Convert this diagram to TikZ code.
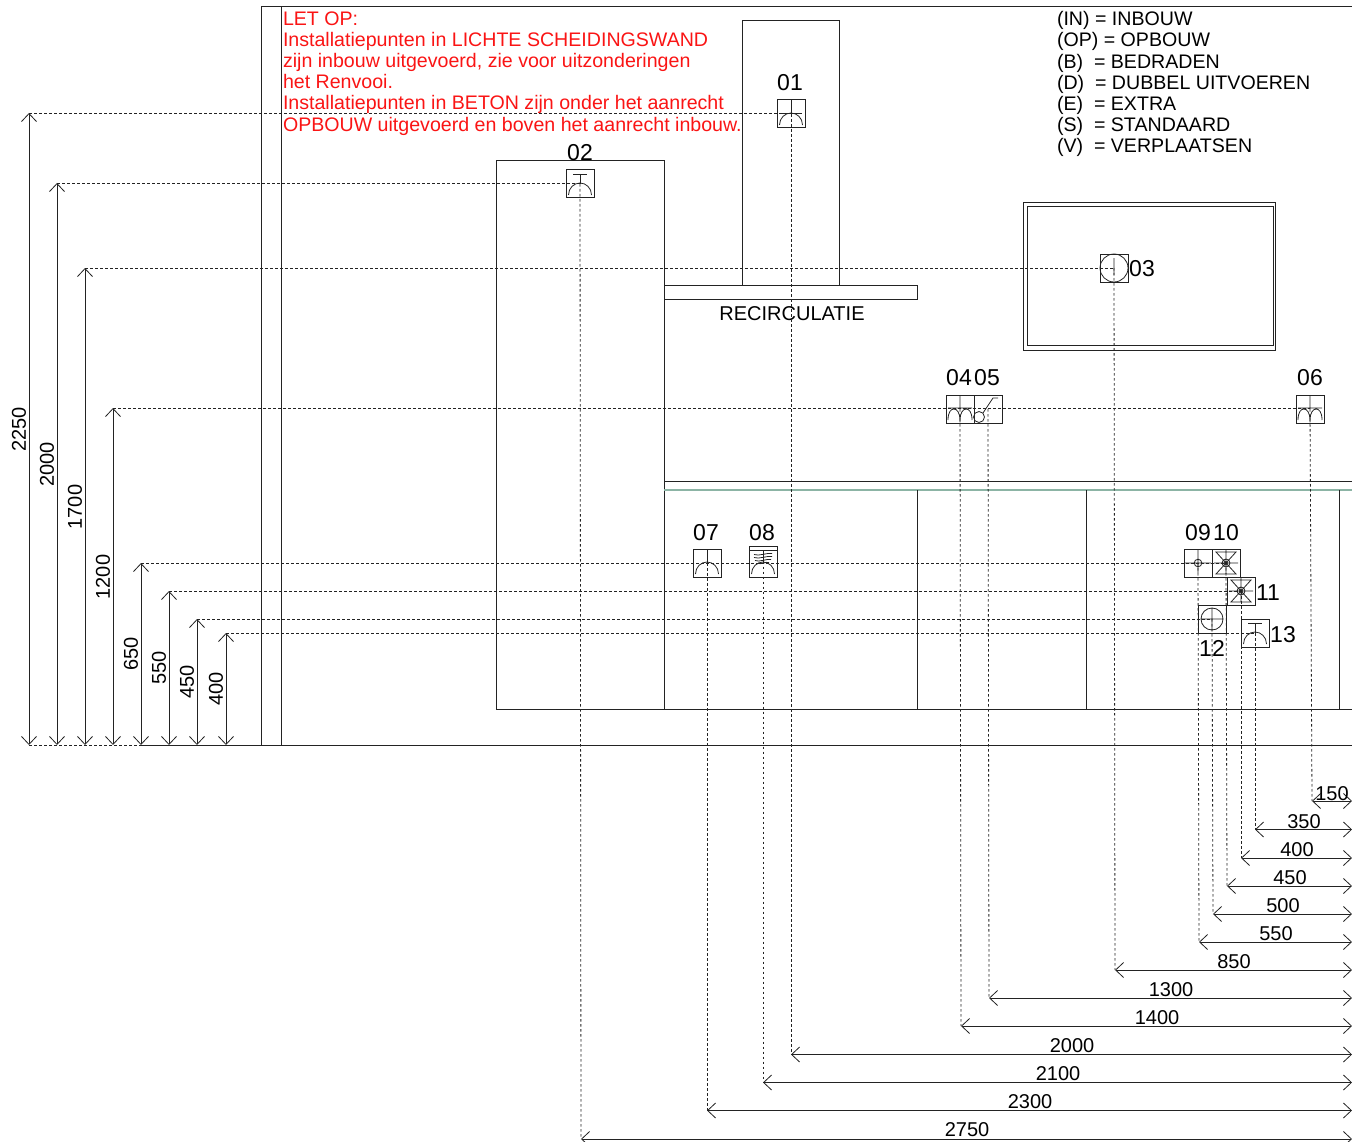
\documentclass[tikz,border=0pt]{standalone}
\usepackage{fontspec}
\setmainfont{Liberation Sans}
\usetikzlibrary{arrows.meta}
\definecolor{redtxt}{RGB}{250,20,20}
\definecolor{wallgreen}{RGB}{140,180,165}
\definecolor{ink}{RGB}{35,35,35}
\tikzset{
  x=1pt,y=-1pt,
  every node/.style={inner sep=0pt,outer sep=0pt},
  wall/.style={draw=ink,line width=1pt},
  leader/.style={draw=ink,line width=0.8pt,dash pattern=on 2.6pt off 2.4pt},
  dim/.style={draw=ink,line width=0.9pt,{Straight Barb[length=8pt,width=15pt,line width=0.8pt]}-{Straight Barb[length=8pt,width=15pt,line width=0.8pt]}},
  symb/.style={draw=ink,line width=1pt,minimum width=28pt,minimum height=28pt,fill=none},
  stroke/.style={draw=ink,line width=0.8pt},
  num/.style={font=\fontsize{23}{24}\selectfont,text=black},
  dimtxt/.style={font=\fontsize{20}{22}\selectfont,text=black},
  dimrot/.style={dimtxt,rotate=90},
  pics/hump/.style={code={\draw[stroke] (-11.5,11) .. controls (-11.5,4) and (-6,-1) .. (0,-1) .. controls (6,-1) and (11.5,4) .. (11.5,11);}},
  pics/sockplain/.style={code={\pic {hump}; \draw[stroke] (0,-14) -- (0,0);}},
  pics/sockbar/.style={code={\pic {sockplain}; \draw[stroke] (-11,-1) -- (11,-1);}},
  pics/sockT/.style={code={\pic {hump}; \draw[stroke] (-7,-10) -- (7,-10) (0,-10) -- (0,0);}},
  pics/sockdouble/.style={code={\draw[stroke] (0,-14) -- (0,0) (-12,-1) -- (12,-1)
      (-12,11) .. controls (-12,3) and (-9,0) .. (-6,0) .. controls (-3,0) and (0,4) .. (0,11)
      .. controls (0,4) and (3,0) .. (6,0) .. controls (9,0) and (12,3) .. (12,11);}},
  pics/swit/.style={code={\draw[stroke] (-9,8) circle[radius=5.5pt] (-5,4) -- (5,-11) -- (10,-11);}},
  pics/steam/.style={code={\pic at (0,1.5) {hump};
      \draw[stroke] (-14,-11.5) -- (14,-11.5) (0,-11.5) -- (0,1);
      \draw[stroke] (-9,-7) .. controls (-4,-5) and (4,-9) .. (9,-8)
                    (-9,-4) .. controls (-4,-2) and (4,-6) .. (9,-5)
                    (-8,-1) .. controls (-4,1) and (4,-3) .. (8,-2)
                    (-5,2) .. controls (-2,3) and (3,0) .. (6,1);}},
  pics/smallcross/.style={code={\draw[stroke] (0,0) circle[radius=3.8pt] (0,-14) -- (0,10) (-13,0) -- (13,0);}},
  pics/hourglass/.style={code={\draw[stroke] (-10,-11) -- (10,-11) -- (-10,11) -- (10,11) -- cycle
      (0,0) circle[radius=4pt] (0,0) circle[radius=1.8pt] (0,-14) -- (0,11) (-12,0) -- (12,0);}},
  pics/bigcross/.style={code={\draw[stroke] (0,0) circle[radius=11pt] (0,-11) -- (0,11) (-11,0) -- (11,0);}},
  pics/wallsock/.style={code={\draw[stroke] (0,0) circle[radius=14pt] (0,-10) -- (0,7);}},
}
\begin{document}
\begin{tikzpicture}
\useasboundingbox (0,0) rectangle (1352,1142);

% ---- walls and furniture
\draw[wall] (261,745) -- (261,7) -- (1352,7);
\draw[wall] (281,7) -- (281,745);
\draw[wall] (141,745) -- (1352,745);
\draw[leader] (29,745) -- (141,745);
\draw[wall] (742,285) -- (742,21) -- (839,21) -- (839,285);
\draw[wall] (664,285) rectangle (917,299);
\draw[wall] (496,161) rectangle (664,709);
\draw[wall] (664,709) -- (1352,709);
\draw[wall] (664,481) -- (1352,481);
\draw[draw=wallgreen,line width=1.2pt] (664,490) -- (1352,490);
\draw[wall] (917,490) -- (917,709) (1086,490) -- (1086,709) (1339,490) -- (1339,709);
\draw[wall] (1023,203) rectangle (1275,350);
\draw[wall] (1027,207) rectangle (1273,345);

% ---- texts
\node[anchor=north west,align=left,text=redtxt,font=\fontsize{19.6}{21.2}\selectfont] (note) at (283,11.5)
  {LET OP:\\Installatiepunten in LICHTE SCHEIDINGSWAND\\zijn inbouw uitgevoerd, zie voor uitzonderingen\\het Renvooi.\\Installatiepunten in BETON zijn onder het aanrecht\\OPBOUW uitgevoerd en boven het aanrecht inbouw.};
\node[anchor=north west,align=left,text=black,font=\fontsize{19.6}{21.2}\selectfont] (legend) at (1057,11.5)
  {(IN) = INBOUW\\(OP) = OPBOUW\\(B)\ \ = BEDRADEN\\(D)\ \ = DUBBEL UITVOEREN\\(E)\ \ = EXTRA\\(S)\ \ = STANDAARD\\(V)\ \ = VERPLAATSEN};
\node[font=\fontsize{20}{22}\selectfont] (recirc) at (792,314) {RECIRCULATIE};

% ---- symbols
\node[symb] (n01) at (791,114) {};
\node[symb] (n02) at (580,184) {};
\node[symb] (n03) at (1114,268) {};
\node[symb] (n04) at (960,409) {};
\node[symb] (n05) at (988,409) {};
\node[symb] (n06) at (1310,409) {};
\node[symb] (n07) at (707,563) {};
\node[symb,minimum height=31pt] (n08) at (763,561.5) {};
\node[symb] (n09) at (1198,563) {};
\node[symb] (n10) at (1226,563) {};
\node[symb] (n11) at (1241,591) {};
\node[symb] (n12) at (1212,619) {};
\node[symb] (n13) at (1255,633) {};

\pic at (n01) {sockbar};
\pic at (n02) {sockT};
\pic at (n03) {wallsock};
\pic at (n04) {sockdouble};
\pic at (n05) {swit};
\pic at (n06) {sockdouble};
\pic at (n07) {sockplain};
\pic at (n08) {steam};
\pic at (n09) {smallcross};
\pic at (n10) {hourglass};
\pic at (n11) {hourglass};
\pic at (n12) {bigcross};
\pic at (n13) {sockT};

% ---- symbol numbers
\node[num] (l01) at (790,82.5) {01};
\node[num] (l02) at (580,153) {02};
\node[num] (l03) at (1142,269) {03};
\node[num] (l04) at (959,378) {04};
\node[num] (l05) at (987,378) {05};
\node[num] (l06) at (1310,378) {06};
\node[num] (l07) at (706,533) {07};
\node[num] (l08) at (762,533) {08};
\node[num] (l09) at (1198,533) {09};
\node[num] (l10) at (1226,533) {10};
\node[num] (l11) at (1268,593) {11};
\node[num] (l12) at (1212,648) {12};
\node[num] (l13) at (1283,635) {13};

% ---- vertical dimensions (heights)
\coordinate (vt2250) at (29,113);  \coordinate (vb2250) at (29,745);
\coordinate (vt2000) at (57,183);  \coordinate (vb2000) at (57,745);
\coordinate (vt1700) at (85,268);  \coordinate (vb1700) at (85,745);
\coordinate (vt1200) at (113,408); \coordinate (vb1200) at (113,745);
\coordinate (vt650) at (141,563);  \coordinate (vb650) at (141,745);
\coordinate (vt550) at (169,591);  \coordinate (vb550) at (169,745);
\coordinate (vt450) at (197,619);  \coordinate (vb450) at (197,745);
\coordinate (vt400) at (226,633);  \coordinate (vb400) at (226,745);
\draw[dim] (vt2250) -- (vb2250);
\draw[dim] (vt2000) -- (vb2000);
\draw[dim] (vt1700) -- (vb1700);
\draw[dim] (vt1200) -- (vb1200);
\draw[dim] (vt650) -- (vb650);
\draw[dim] (vt550) -- (vb550);
\draw[dim] (vt450) -- (vb450);
\draw[dim] (vt400) -- (vb400);
\node[dimrot] (tv2250) at (19,429.5) {2250};
\node[dimrot] (tv2000) at (47,464.5) {2000};
\node[dimrot] (tv1700) at (75,507) {1700};
\node[dimrot] (tv1200) at (103,577) {1200};
\node[dimrot] (tv650) at (131,654) {650};
\node[dimrot] (tv550) at (159,668) {550};
\node[dimrot] (tv450) at (187,682) {450};
\node[dimrot] (tv400) at (216,689) {400};

% ---- horizontal dimensions
\coordinate (hl150) at (1312,801);  \coordinate (hr150) at (1352,801);
\coordinate (hl350) at (1255,829.5);  \coordinate (hr350) at (1352,829.5);
\coordinate (hl400) at (1241,858);  \coordinate (hr400) at (1352,858);
\coordinate (hl450) at (1227,886);  \coordinate (hr450) at (1352,886);
\coordinate (hl500) at (1213,914);  \coordinate (hr500) at (1352,914);
\coordinate (hl550) at (1199,942);  \coordinate (hr550) at (1352,942);
\coordinate (hl850) at (1115,970);  \coordinate (hr850) at (1352,970);
\coordinate (hl1300) at (989,998);  \coordinate (hr1300) at (1352,998);
\coordinate (hl1400) at (961,1026); \coordinate (hr1400) at (1352,1026);
\coordinate (hl2000) at (791,1054.5); \coordinate (hr2000) at (1352,1054.5);
\coordinate (hl2100) at (763,1082.5); \coordinate (hr2100) at (1352,1082.5);
\coordinate (hl2300) at (707,1110.5); \coordinate (hr2300) at (1352,1110.5);
\coordinate (hl2750) at (581,1139); \coordinate (hr2750) at (1352,1139);
\draw[dim] (hl150) -- (hr150);
\draw[dim] (hl350) -- (hr350);
\draw[dim] (hl400) -- (hr400);
\draw[dim] (hl450) -- (hr450);
\draw[dim] (hl500) -- (hr500);
\draw[dim] (hl550) -- (hr550);
\draw[dim] (hl850) -- (hr850);
\draw[dim] (hl1300) -- (hr1300);
\draw[dim] (hl1400) -- (hr1400);
\draw[dim] (hl2000) -- (hr2000);
\draw[dim] (hl2100) -- (hr2100);
\draw[dim] (hl2300) -- (hr2300);
\draw[dim] (hl2750) -- (hr2750);
\node[dimtxt] (th150) at (1332,793.5) {150};
\node[dimtxt] (th350) at (1304,821.5) {350};
\node[dimtxt] (th400) at (1297,849.5) {400};
\node[dimtxt] (th450) at (1290,877.5) {450};
\node[dimtxt] (th500) at (1283,905.5) {500};
\node[dimtxt] (th550) at (1276,933.5) {550};
\node[dimtxt] (th850) at (1234,961.5) {850};
\node[dimtxt] (th1300) at (1171,989.5) {1300};
\node[dimtxt] (th1400) at (1157,1017.5) {1400};
\node[dimtxt] (th2000) at (1072,1045.5) {2000};
\node[dimtxt] (th2100) at (1058,1073.5) {2100};
\node[dimtxt] (th2300) at (1030,1101.5) {2300};
\node[dimtxt] (th2750) at (967,1130) {2750};

% ---- leaders: horizontal from height dimension to symbol
\draw[leader] (vt2250) -- (vt2250 -| n01);
\draw[leader] (vt2000) -- (vt2000 -| n02);
\draw[leader] (vt1700) -- (vt1700 -| n03);
\draw[leader] (vt1200) -- (vt1200 -| n06);
\draw[leader] (vt650) -- (vt650 -| n10);
\draw[leader] (vt550) -- (vt550 -| n11);
\draw[leader] (vt450) -- (vt450 -| n12);
\draw[leader] (vt400) -- (vt400 -| n13);
% ---- leaders: vertical from symbol to width dimension
\draw[leader] (n01.center) -- (hl2000);
\draw[leader] (n02.center) -- (hl2750);
\draw[leader] (n03.center) -- (hl850);
\draw[leader] (n04.center) -- (hl1400);
\draw[leader] (n05.center) -- (hl1300);
\draw[leader] (n06.center) -- (hl150);
\draw[leader] (n07.center) -- (hl2300);
\draw[leader] (n08.center) -- (hl2100);
\draw[leader] (n09.center) -- (hl550);
\draw[leader] (n10.center) -- (hl450);
\draw[leader] (n11.center) -- (hl400);
\draw[leader] (n12.center) -- (hl500);
\draw[leader] (n13.center) -- (hl350);
\end{tikzpicture}
\end{document}
